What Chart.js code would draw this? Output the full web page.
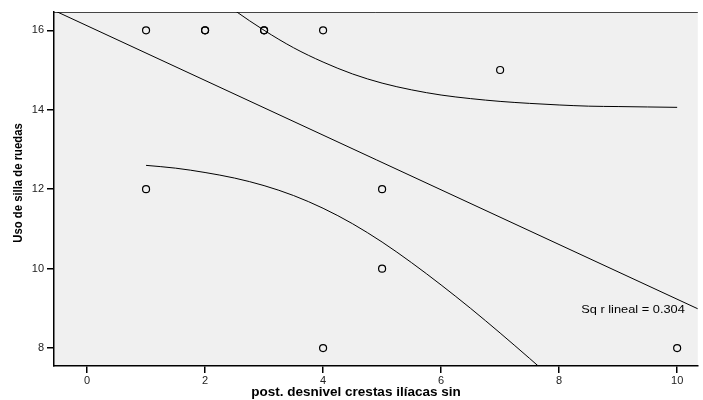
<!DOCTYPE html>
<html>
<head>
<meta charset="utf-8">
<script src="https://cdn.jsdelivr.net/npm/chart.js@4"></script>
<style>
  html, body { margin: 0; padding: 0; background: #fff; }
  #caja { width: 703px; height: 400px; }
</style>
</head>
<body>
<div id="caja"><canvas id="grafico"></canvas></div>
<script>
// observaciones
const desnivel = [1, 2, 2, 3, 3, 4, 7, 1, 5, 5, 4, 10];
const usoSilla = [16, 16, 16, 16, 16, 16, 15, 12, 12, 10, 8, 8];

// recta de ajuste (extremos del eje)
const rectaX = [-0.56, 10.35];
const rectaY = [16.50, 8.99];

// bandas de confianza
const bandaX = [1, 1.5, 2, 2.5, 3, 3.5, 4, 4.5, 5, 5.5, 6, 6.5, 7, 7.5, 8, 8.5, 9, 9.5, 10];
const bandaSup = [18.25, 17.63, 17.05, 16.50, 16.00, 15.56, 15.20, 14.90, 14.67, 14.50, 14.37, 14.28, 14.21, 14.16, 14.12, 14.09, 14.08, 14.07, 14.06];
const bandaInf = [12.60, 12.53, 12.42, 12.28, 12.09, 11.84, 11.52, 11.13, 10.67, 10.15, 9.59, 9.00, 8.38, 7.74, 7.09, 6.43, 5.76, 5.08, 4.40];

const ticksX = [0, 2, 4, 6, 8, 10];
const ticksY = [8, 10, 12, 14, 16];

const puntos = desnivel.map((x, i) => ({ x: x, y: usoSilla[i] }));
const recta = rectaX.map((x, i) => ({ x: x, y: rectaY[i] }));
const sup = bandaX.map((x, i) => ({ x: x, y: bandaSup[i] }));
const inf = bandaX.map((x, i) => ({ x: x, y: bandaInf[i] }));

const linea = (d) => ({
    data: d,
    showLine: true,
    borderColor: '#000',
    borderWidth: 1,
    pointRadius: 0,
    fill: false,
    cubicInterpolationMode: 'monotone'
});

const fondo = {
    id: 'fondo',
    beforeDraw(chart) {
        const { ctx, chartArea: a } = chart;
        ctx.save();
        ctx.fillStyle = '#f0f0f0';
        ctx.fillRect(a.left, a.top, a.right - a.left, a.bottom - a.top);
        ctx.strokeStyle = '#444';
        ctx.lineWidth = 1;
        ctx.beginPath();
        ctx.moveTo(a.left, a.top + 0.5);
        ctx.lineTo(a.right, a.top + 0.5);
        ctx.stroke();
        ctx.restore();
    },
    afterDraw(chart) {
        const { ctx } = chart;
        ctx.save();
        ctx.fillStyle = '#000';
        ctx.textAlign = 'center';
        ctx.textBaseline = 'middle';

        // texto del ajuste, algo ensanchado como en el original
        ctx.save();
        ctx.translate(633, 310);
        ctx.scale(1.22, 1);
        ctx.font = '10.5px "Liberation Sans", Arial, sans-serif';
        ctx.fillText('Sq r lineal = 0.304', 0, 0);
        ctx.restore();

        ctx.font = 'bold 13.5px "Liberation Sans", Arial, sans-serif';
        ctx.fillText('post. desnivel crestas ilíacas sin', 356, 392);

        ctx.translate(18, 183);
        ctx.rotate(-Math.PI / 2);
        ctx.scale(0.87, 1);
        ctx.font = 'bold 13px "Liberation Sans", Arial, sans-serif';
        ctx.fillText('Uso de silla de ruedas', 0, 0);
        ctx.restore();
    }
};

const config = {
    type: 'scatter',
    data: {
        datasets: [
            {
                data: puntos,
                pointRadius: 3.5,
                pointBorderWidth: 1.2,
                pointBorderColor: '#000',
                pointBackgroundColor: 'rgba(0,0,0,0)'
            },
            linea(recta),
            linea(sup),
            linea(inf)
        ]
    },
    options: {
        responsive: true,
        maintainAspectRatio: false,
        animation: false,
        layout: { padding: { top: 12, right: 0, left: 0, bottom: 0 } },
        plugins: { legend: { display: false }, tooltip: { enabled: false } },
        scales: {
            x: {
                min: -0.56,
                max: 10.35,
                afterBuildTicks: (s) => { s.ticks = ticksX.map(v => ({ value: v })); },
                afterFit: (s) => { s.height = 34; },
                grid: { drawOnChartArea: false, drawTicks: true, tickLength: 7, color: '#000', lineWidth: 1.5 },
                border: { color: '#000', width: 1.5 },
                ticks: { color: '#222', font: { size: 11, family: '"Liberation Sans", Arial' }, padding: 1 }
            },
            y: {
                min: 7.55,
                max: 16.46,
                afterBuildTicks: (s) => { s.ticks = ticksY.map(v => ({ value: v })); },
                afterFit: (s) => { s.width = 54; },
                grid: { drawOnChartArea: false, drawTicks: true, tickLength: 7, color: '#000', lineWidth: 1.5 },
                border: { color: '#000', width: 1.5 },
                ticks: { color: '#222', font: { size: 11, family: '"Liberation Sans", Arial' }, padding: 3 }
            }
        }
    },
    plugins: [fondo]
};

const grafico = new Chart(document.getElementById('grafico'), config);
</script>
</body>
</html>
